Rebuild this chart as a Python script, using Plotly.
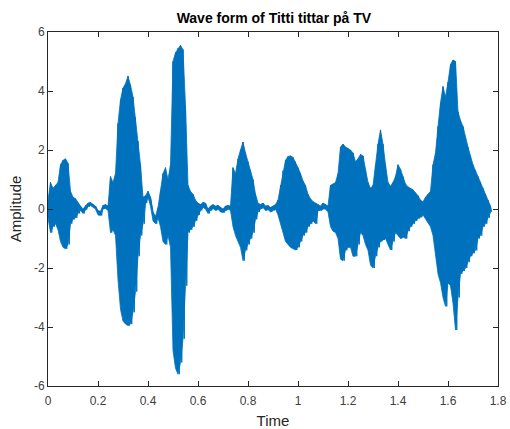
import plotly.graph_objects as go

# Time samples (s) where the waveform envelope was read
time_s = [round(i * 0.01, 2) for i in range(178)]

# Upper envelope of the waveform (amplitude) at each time sample
upper = [
    0.3, 0.9, 0.7, 0.8, 0.9, 1.5, 1.65, 1.7, 1.55, 0.6,
    0.4, 0.35, 0.2, 0.1, 0.0, 0.12, 0.2, 0.22, 0.15, 0.1,
    -0.05, -0.08, 0.12, 0.15, 0.1, 1.1, 0.9, 1.2, 2.9, 3.7,
    4.1, 4.25, 4.5, 4.2, 3.8, 3.1, 2.3, 1.5, 0.4, 0.45,
    0.6, 0.4, -0.1, -0.25, 0.05, 0.6, 1.2, 1.4, 1.0, 1.5,
    5.0, 5.3, 5.45, 5.55, 5.4, 3.5, 0.8, 0.6, 0.5, 0.3,
    0.2, 0.15, 0.22, 0.2, 0.0, 0.1, 0.15, 0.1, 0.12, 0.05,
    0.0, 0.1, 0.12, 0.1, 1.4, 1.2, 1.7, 2.0, 2.27, 1.9,
    1.6, 1.3, 1.0, 0.5, 0.2, 0.15, 0.2, 0.1, 0.12, 0.05,
    0.1, 0.15, 0.3, 0.8, 1.3, 1.65, 1.78, 1.8, 1.75, 1.6,
    1.4, 1.2, 0.95, 0.8, 0.5, 0.35, 0.25, 0.2, 0.15, 0.1,
    0.2, 0.15, 0.1, 0.8, 0.85, 0.9, 1.2, 2.1, 2.2, 2.1,
    2.05, 2.0, 1.9, 1.6, 1.7, 1.85, 1.8, 1.3, 0.9, 0.7,
    0.8, 1.5, 2.2, 2.68, 2.2, 1.5, 0.9, 0.77, 0.9, 1.1,
    1.5, 1.35, 1.1, 0.85, 0.75, 0.7, 0.65, 0.55, 0.45, 0.3,
    0.24, 0.4, 0.5, 0.6, 1.5, 1.9, 2.8, 3.6, 4.15, 3.8,
    4.3, 4.9, 5.05, 5.0, 3.3, 3.0, 2.8, 2.4, 2.1, 1.8,
    1.5, 1.3, 1.1, 0.9, 0.7, 0.5, 0.3, 0.1,
]

# Lower envelope of the waveform (amplitude) at each time sample
lower = [
    -0.3, -0.8, -0.6, -0.5, -0.7, -1.1, -1.3, -1.35, -1.2, -0.5,
    -0.35, -0.3, -0.15, -0.05, -0.15, -0.02, 0.08, 0.12, 0.05, 0.0,
    -0.2, -0.22, 0.0, 0.02, -0.05, -0.8, -0.7, -0.9, -2.4, -3.4,
    -3.8, -3.9, -3.95, -3.9, -3.5, -2.8, -1.6, -0.9, -0.5, 0.2,
    0.4, 0.1, -0.4, -0.5, -0.3, -0.6, -1.1, -1.2, -0.9, -1.3,
    -4.8, -5.4, -5.6, -5.2, -4.4, -2.6, -0.8, -0.7, -0.6, -0.4,
    -0.2, -0.05, 0.05, 0.0, -0.15, -0.05, 0.02, -0.05, 0.0, -0.1,
    -0.12, -0.05, 0.0, -0.05, -0.6, -0.9, -1.1, -1.3, -1.75, -1.4,
    -1.2, -1.0, -0.8, -0.35, -0.1, 0.0, 0.05, -0.05, -0.02, -0.1,
    -0.05, 0.0, -0.2, -0.5, -0.8, -1.1, -1.2, -1.3, -1.35, -1.39,
    -1.3, -1.1, -0.9, -0.8, -0.6, -0.5, -0.4, -0.5, -0.05, -0.05,
    0.0, 0.0, -0.1, -0.6, -0.75, -0.8, -1.0, -1.7, -1.75, -1.4,
    -1.3, -1.3, -1.6, -1.6, -1.2, -0.8, -0.9, -1.2, -1.4, -1.9,
    -2.0, -1.6, -1.3, -1.1, -1.05, -1.0, -1.2, -1.39, -1.1, -0.8,
    -0.9, -1.0, -0.95, -1.0, -0.75, -0.6, -0.5, -0.4, -0.32, -0.28,
    -0.2, -0.3, -0.45, -0.6, -0.9, -1.6, -2.2, -2.5, -3.0, -3.3,
    -2.5, -2.6, -3.2, -4.1, -3.0, -2.2, -2.1, -2.0, -1.8, -1.6,
    -1.5, -1.4, -1.0, -0.9, -0.6, -0.5, -0.3, -0.1,
]

x_ticks = [0, 0.2, 0.4, 0.6, 0.8, 1, 1.2, 1.4, 1.6, 1.8]
y_ticks = [-6, -4, -2, 0, 2, 4, 6]

BLUE = "#0072BD"

fig = go.Figure()

# Solid body of the waveform: area between lower and upper envelope
fig.add_trace(go.Scatter(
    x=time_s + time_s[::-1], y=upper + lower[::-1],
    mode="lines", fill="toself", fillcolor=BLUE,
    line=dict(color=BLUE, width=0.8),
    showlegend=False, hoverinfo="skip",
))

# Oscillating trace alternating between upper and lower envelope
xs, ys = [], []
for t, u, l in zip(time_s, upper, lower):
    xs += [t, t + 0.005]
    ys += [u, l]
fig.add_trace(go.Scatter(
    x=xs, y=ys, mode="lines",
    line=dict(color=BLUE, width=1),
    showlegend=False, hoverinfo="skip",
))

font_family = "Liberation Sans, Arial, sans-serif"
axis_common = dict(
    showgrid=False, zeroline=False, showline=True, mirror="ticks",
    linecolor="#262626", linewidth=1, ticks="inside", ticklen=5,
    tickcolor="#262626", automargin=False,
    tickfont=dict(family=font_family, size=12, color="#404040"),
)

fig.update_layout(
    width=510, height=429,
    margin=dict(l=48, r=12, t=32, b=43),
    paper_bgcolor="white", plot_bgcolor="white",
    title=dict(
        text="<b>Wave form of Titti tittar på TV</b>",
        x=0.537, xanchor="center", y=0.958, yanchor="middle",
        font=dict(family=font_family, size=14, color="#000000"),
    ),
    xaxis=dict(
        range=[0, 1.8], tickvals=x_ticks, ticktext=[str(v) for v in x_ticks],
        ticklabelstandoff=4,
        title=dict(text="Time", standoff=9,
                   font=dict(family=font_family, size=15, color="#262626")),
        **axis_common,
    ),
    yaxis=dict(
        range=[-6, 6], tickvals=y_ticks, ticktext=[str(v) for v in y_ticks],
        title=dict(text="Amplitude", standoff=8,
                   font=dict(family=font_family, size=15, color="#262626")),
        **axis_common,
    ),
)

fig.write_html(
    "out.html",
    config={"displayModeBar": False},
    post_script="document.body.style.margin='0';document.body.style.overflow='hidden';",
)
